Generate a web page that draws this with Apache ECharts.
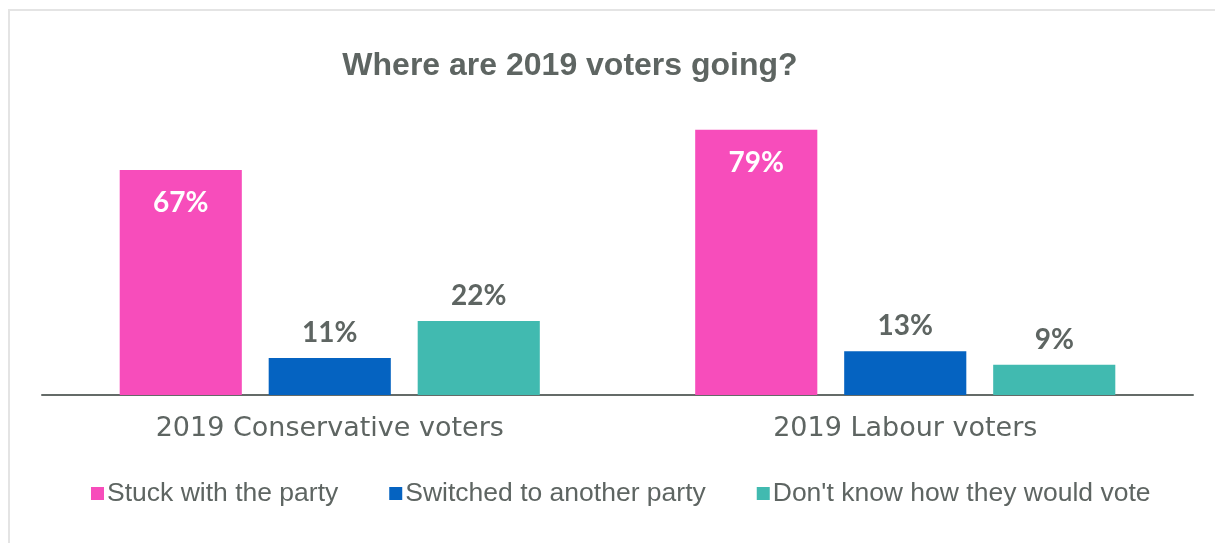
<!DOCTYPE html>
<html><head><meta charset="utf-8">
<script src="https://cdn.jsdelivr.net/npm/echarts@6/dist/echarts.min.js"></script>
<style>html,body{margin:0;padding:0;background:#fff}#c{width:1215px;height:543px}</style>
</head><body><div id="c"></div>
<script>
var titleText = 'Where are 2019 voters going?';
var categories = ['2019 Conservative voters', '2019 Labour voters'];
var seriesNames = ['Stuck with the party', 'Switched to another party', "Don't know how they would vote"];
var stuck = [67, 79];
var switched = [11, 13];
var dontKnow = [22, 9];

var colors = ['#F74DBB', '#0563C1', '#41BAB0'];
var grey = '#5E6562';
var labelFont = 'Lato, "DejaVu Sans", sans-serif';

function outsideLabel() {
  return {show: true, position: 'top', distance: 11, color: grey, fontSize: 28, fontWeight: 'bold',
    fontFamily: labelFont, formatter: '{c}%'};
}

var chart = echarts.init(document.getElementById('c'), null, {renderer: 'canvas'});
chart.setOption({
  animation: false,
  backgroundColor: '#fff',
  graphic: [{type: 'rect', shape: {x: 9, y: 10, width: 1220, height: 560},
    style: {fill: 'none', stroke: '#e4e4e4', lineWidth: 2}, silent: true}],
  title: {text: titleText, left: 565, top: 45, textAlign: 'center',
    textStyle: {color: grey, fontSize: 32, fontWeight: 'bold', fontFamily: '"Liberation Sans", Arial, sans-serif'}},
  legend: {bottom: 31, left: 86, itemWidth: 13, itemHeight: 13, itemGap: 51,
    icon: 'rect',
    textStyle: {color: grey, fontSize: 26.5, fontFamily: '"Liberation Sans", Arial, sans-serif', padding: [0, 0, 0, -2]},
    data: seriesNames},
  grid: {left: 42, right: 22, top: 59.2, height: 335.8, containLabel: false},
  xAxis: {type: 'category', data: categories,
    axisLine: {lineStyle: {color: '#646B68', width: 2}}, axisTick: {show: false},
    axisLabel: {color: grey, fontSize: 27, margin: 20, fontFamily: '"DejaVu Sans", sans-serif'}},
  yAxis: {type: 'value', min: 0, max: 100, show: false, splitLine: {show: false}},
  series: [
    {name: seriesNames[0], type: 'bar', data: stuck, barGap: '22%', barCategoryGap: '27%',
      itemStyle: {color: colors[0]},
      label: {show: true, position: 'insideTop', distance: 19, color: '#fff', fontSize: 28, fontWeight: 'bold',
        fontFamily: labelFont, formatter: '{c}%'}},
    {name: seriesNames[1], type: 'bar', data: switched, barGap: '22%', barCategoryGap: '27%',
      itemStyle: {color: colors[1]}, label: outsideLabel()},
    {name: seriesNames[2], type: 'bar', data: dontKnow, barGap: '22%', barCategoryGap: '27%',
      itemStyle: {color: colors[2]}, label: outsideLabel()}
  ]
});
</script></body></html>
